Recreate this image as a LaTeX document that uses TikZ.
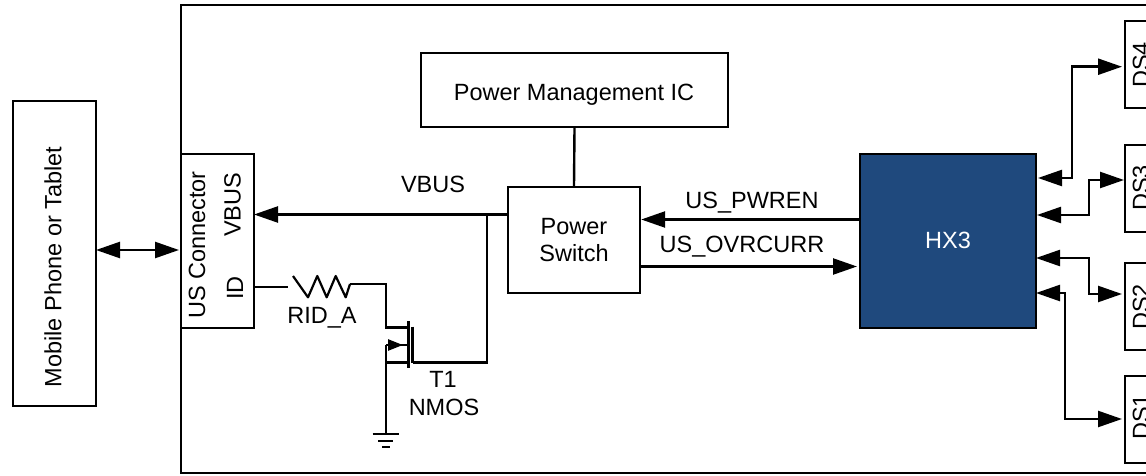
\documentclass[tikz,border=0pt]{standalone}
\usepackage{fontspec}
\setmainfont{Liberation Sans}
\usetikzlibrary{arrows.meta}
\definecolor{hxblue}{HTML}{1F497D}

\begin{document}
\begin{tikzpicture}[
                x=1pt, y=-1pt,
                font=\fontsize{23.5}{27}\selectfont,
                blockbox/.style={rectangle, draw=black, line width=2.4pt, inner sep=0pt, align=center},
                hubbox/.style={rectangle, draw=black, fill=hxblue, text=white, line width=2.4pt, inner sep=0pt},
                portbox/.style={rectangle, draw=black, line width=2.4pt, inner sep=0pt, minimum width=60, minimum height=87},
                wire/.style={line width=2.4pt},
                thinwire/.style={line width=2.2pt},
                onearrow/.style={-{Triangle[length=24pt, width=16pt]}, line width=2.4pt},
                twoarrow/.style={{Triangle[length=24pt, width=16pt]}-{Triangle[length=24pt, width=16pt]}, line width=2.4pt},
                label/.style={inner sep=0pt},
                ]
                \clip (0,0) rectangle (1146,476);

                \node[blockbox, minimum width=1019, minimum height=468] (board) at (690.5,239) {};

                \node[blockbox, minimum width=83, minimum height=305] (phone) at (54.5,253.5) {};
                \node[label] (phonetext) at (53,267) {\rotatebox{90}{Mobile Phone or Tablet}};
                \node[blockbox, minimum width=73, minimum height=174] (usconn) at (217.5,241) {};
                \node[label] (usconntext) at (197,245) {\rotatebox{90}{US Connector}};
                \node[label] (vbuspin) at (232.5,205) {\rotatebox{90}{VBUS}};
                \node[label] (idpin) at (235,288) {\rotatebox{90}{ID}};

                \node[blockbox, minimum width=307, minimum height=74] (pmic) at (574.5,90) {};
                \node[label] (pmictext) at (574,94.5) {Power Management IC};
                \node[blockbox, minimum width=132, minimum height=106] (pswitch) at (574,240) {Power\\Switch};
                \node[hubbox, minimum width=176, minimum height=174] (hub) at (948,241) {};
                \node[label, text=white] (hubtext) at (948,240) {HX3};

                \node[portbox] (dsfour) at (1155,64.5) {};
                \node[portbox] (dsthree) at (1155,188.5) {};
                \node[portbox] (dstwo) at (1155,306.5) {};
                \node[portbox] (dsone) at (1155,419.5) {};
                \node[label] (dsfourtext) at (1141,65) {\rotatebox{90}{DS4}};
                \node[label] (dsthreetext) at (1141,188) {\rotatebox{90}{DS3}};
                \node[label] (dstwotext) at (1141,307) {\rotatebox{90}{DS2}};
                \node[label] (dsonetext) at (1141,417) {\rotatebox{90}{DS1}};

                \node[label] (vbustext) at (433,184.5) {VBUS};
                \node[label] (pwrentext) at (752,203) {US\_PWREN};
                \node[label] (ovrtext) at (742,246.5) {US\_OVRCURR};
                \node[label] (ridtext) at (322,318) {RID\_A};
                \node[label] (tonetext) at (443,379) {T1};
                \node[label] (nmostext) at (444,407) {NMOS};

                \coordinate (phoneport) at (96,250);
                \coordinate (connport) at (179,250);
                \coordinate (vbusport) at (254,214.5);
                \coordinate (vbusjoin) at (487,214.5);
                \coordinate (idport) at (254,287);
                \coordinate (idend) at (288,287);
                \coordinate (ridin) at (293,276);
                \coordinate (ridout) at (350,284);
                \coordinate (gatein) at (386,327.5);
                \coordinate (drainout) at (412.5,362.5);
                \coordinate (source) at (386,345);
                \coordinate (groundtop) at (386,434);

                \draw[twoarrow] (phoneport) -- (connport);
                \draw[wire] (pmic.south) -- (pswitch.north);
                \draw[onearrow] (pswitch.west |- vbusjoin) -- (vbusport);
                \draw[onearrow] (hub.west |- 0,219.5) -- (pswitch.east |- 0,219.5);
                \draw[onearrow] (pswitch.east |- 0,266.5) -- (857,266.5);

                % resistor and transistor
                \draw[wire] (idport) -- (idend);
                \draw[thinwire, line join=round] (ridin) -- ++(15,21.3) -- ++(9.3,-21.3) -- ++(9.4,21.3) -- ++(9,-21.3) -- ++(10,21.3) -- (ridout);
                \draw[wire] (ridout) -- (gatein |- ridout) -- (gatein) -- ++(22.3,0);
                \draw[wire] (408.5,321) -- (408.5,368);
                \draw[wire] (drainout |- 0,326.7) -- (drainout);
                \draw[wire] (vbusjoin) -- (vbusjoin |- drainout) -- (drainout);
                \draw[wire] (source) -- ++(22.3,0);
                \draw[-{Triangle[length=15pt, width=11pt]}, wire] (source) -- ++(17,0);
                \draw[wire] (source |- drainout) -- ++(22.3,0);
                \draw[wire] (source) -- (groundtop);

                % ground
                \draw[wire] (372.7,434) -- (399.3,434);
                \draw[wire] (378.3,440.7) -- (393.3,440.7);
                \draw[wire] (382.3,447) -- (390,447);

                % downstream ports
                \draw[twoarrow] (1038,178) -- (1072,178) -- (1072,66.7) -- (1122,66.7);
                \draw[twoarrow] (1037,215) -- (1089,215) -- (1089,180) -- (1124,180);
                \draw[twoarrow] (1036,258) -- (1089,258) -- (1089,294) -- (1122,294);
                \draw[twoarrow] (1036,293) -- (1065,293) -- (1065,419) -- (1122,419);
            \end{tikzpicture}
\end{document}
